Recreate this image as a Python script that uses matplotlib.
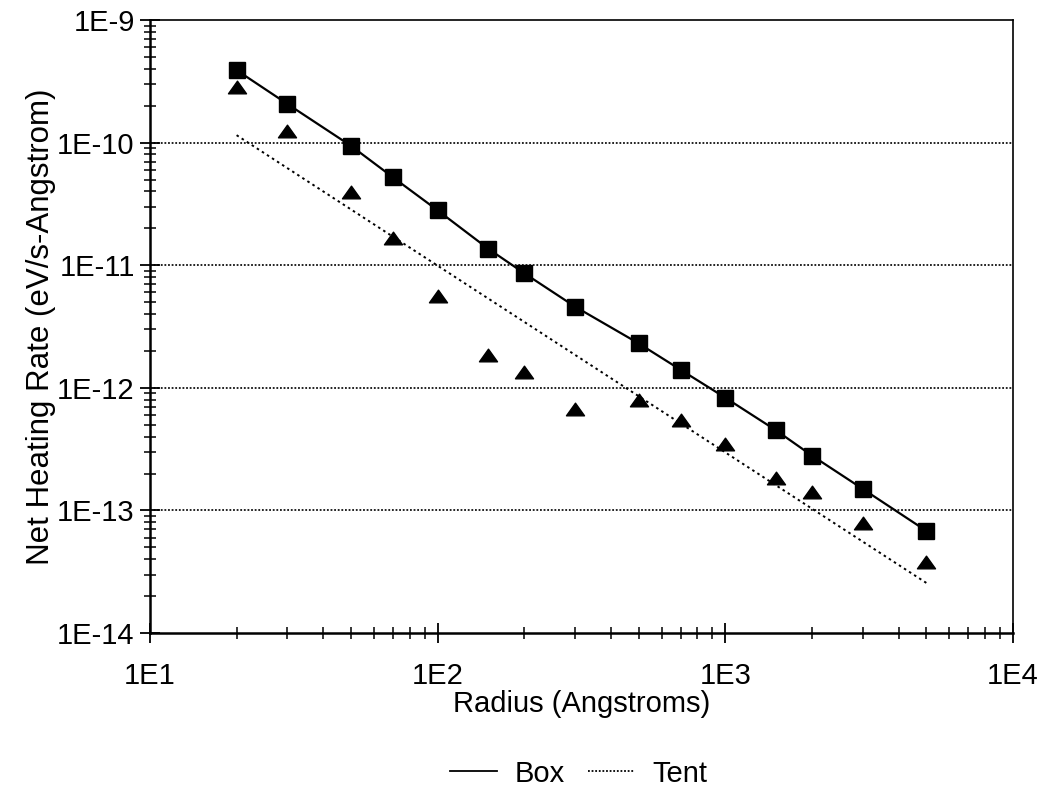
import math
import matplotlib
matplotlib.use("Agg")
import matplotlib.pyplot as plt
from matplotlib.ticker import LogLocator, FuncFormatter, NullFormatter
from matplotlib.lines import Line2D
from matplotlib.path import Path

# radius in Angstroms
radius = [20, 30, 50, 70, 100, 150, 200, 300, 500, 700, 1000, 1500, 2000, 3000, 5000]
# net heating rate, eV/s-Angstrom
box_rate = [3.9e-10, 2.07e-10, 9.4e-11, 5.2e-11, 2.8e-11, 1.36e-11, 8.6e-12, 4.6e-12,
            2.3e-12, 1.4e-12, 8.3e-13, 4.5e-13, 2.8e-13, 1.5e-13, 6.8e-14]
tent_rate = [2.84e-10, 1.25e-10, 3.96e-11, 1.67e-11, 5.6e-12, 1.85e-12, 1.35e-12, 6.7e-13,
             8.0e-13, 5.5e-13, 3.5e-13, 1.85e-13, 1.42e-13, 7.9e-14, 3.8e-14]
# straight fit line drawn through the tent points
tent_fit_x = [20, 5000]
tent_fit_y = [1.15e-10, 2.56e-14]

plt.rcParams['font.family'] = ['Liberation Sans', 'DejaVu Sans']

fig = plt.figure(figsize=(10.46, 7.91), dpi=100)
ax = fig.add_axes([0.1434, 0.1997, 0.8251, 0.775])

ax.set_xscale('log')
ax.set_yscale('log')
ax.set_xlim(10, 1e4)
ax.set_ylim(1e-14, 1e-9)

# gridlines only on the inner decades
for g in [1e-10, 1e-11, 1e-12, 1e-13]:
    ax.axhline(g, color='#111111', linestyle=(0, (1.0, 1.0)), linewidth=1.3, zorder=1)

# flattened triangle, wider than tall like the original
tri = Path([(0, 0.7), (-1, -0.7), (1, -0.7), (0, 0.7)],
           [Path.MOVETO, Path.LINETO, Path.LINETO, Path.CLOSEPOLY])

ax.plot(radius, box_rate, color='black', linewidth=1.6, zorder=3)
ax.plot(radius, box_rate, linestyle='none', marker='s', markersize=12,
        color='black', zorder=4)
ax.plot(tent_fit_x, tent_fit_y, color='black', linestyle=(0, (1.3, 1.8)), linewidth=1.4, zorder=3)
ax.plot(radius, tent_rate, linestyle='none', marker=tri, markersize=13,
        color='black', zorder=4)

def sci_fmt(v, pos):
    return "1E%d" % int(round(math.log10(v)))

ax.xaxis.set_major_locator(LogLocator(base=10, numticks=10))
ax.yaxis.set_major_locator(LogLocator(base=10, numticks=10))
ax.xaxis.set_minor_locator(LogLocator(base=10, subs=range(2, 10), numticks=20))
ax.yaxis.set_minor_locator(LogLocator(base=10, subs=range(2, 10), numticks=20))
ax.xaxis.set_major_formatter(FuncFormatter(sci_fmt))
ax.yaxis.set_major_formatter(FuncFormatter(sci_fmt))
ax.xaxis.set_minor_formatter(NullFormatter())
ax.yaxis.set_minor_formatter(NullFormatter())

ax.tick_params(which='major', direction='inout', length=14, width=1.3, labelsize=21)
ax.tick_params(axis='x', which='major', pad=14)
ax.tick_params(axis='y', which='major', pad=4)
ax.tick_params(which='minor', direction='inout', length=9, width=1.1)
ax.tick_params(top=False, right=False)

for s in ['left', 'bottom']:
    ax.spines[s].set_linewidth(1.8)
for s in ['top', 'right']:
    ax.spines[s].set_linewidth(1.2)

ax.set_xlabel('Radius (Angstroms)', fontsize=21, labelpad=0)
ax.set_ylabel('Net Heating Rate (eV/s-Angstrom)', fontsize=22.5, labelpad=1)

handles = [Line2D([], [], color='black', linewidth=1.3),
           Line2D([], [], color='black', linestyle=(0, (1.0, 1.0)), linewidth=1.3)]
fig.legend(handles, ['Box', 'Tent'], loc='center', bbox_to_anchor=(0.553, 0.022),
           ncol=2, frameon=False, fontsize=21, handlelength=1.6, columnspacing=0.8,
           handletextpad=0.6)

fig.savefig('out.png', dpi=100)
